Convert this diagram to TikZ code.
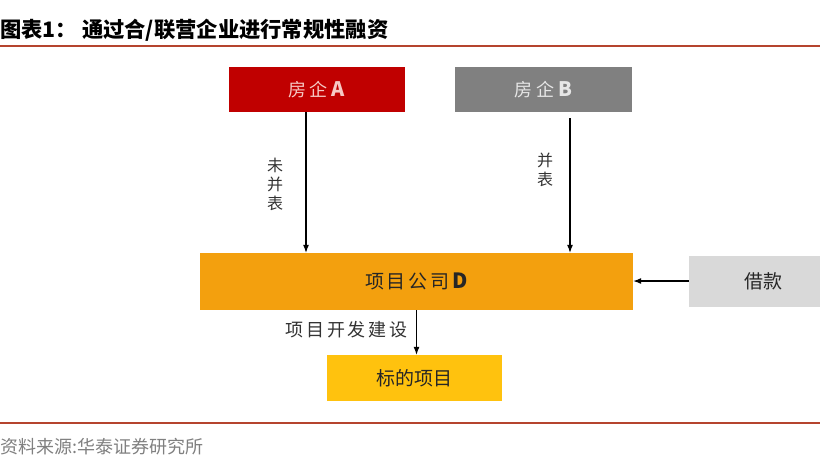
\documentclass[tikz,border=0pt]{standalone}
\usepackage{fontspec}
\newfontfamily\cjk{Noto Sans CJK SC}
\newfontfamily\cjkwide[LetterSpace=20]{Noto Sans CJK SC}
\newfontfamily\cjkmid[LetterSpace=15]{Noto Sans CJK SC}
\usetikzlibrary{arrows.meta}
\definecolor{reda}{HTML}{C00000}
\definecolor{grayb}{HTML}{808080}
\definecolor{orangeD}{HTML}{F3A00E}
\definecolor{goldT}{HTML}{FFC20E}
\definecolor{grayJ}{HTML}{D9D9D9}
\definecolor{rule}{HTML}{B5442E}
\definecolor{pinktxt}{HTML}{F6C9C4}
\definecolor{lgtxt}{HTML}{E6E6E6}
\begin{document}
\begin{tikzpicture}[x=1pt,y=-1pt,
  box/.style={draw=none, inner sep=0pt, font=\cjkwide\fontsize{18}{20}\selectfont},
  lbl/.style={inner sep=0pt, font=\cjk\fontsize{16}{19}\selectfont, text=black!80, align=center},
  arr/.style={-{Latex[length=8pt,width=6pt]}, line width=1.1pt, black}]
\useasboundingbox (0,0) rectangle (820,459);
\fill[white] (0,0) rectangle (820,459);
% title
\node[anchor=west, inner sep=0pt, font=\cjk\bfseries\fontsize{21.3}{24}\selectfont] (title) at (0,30) {图表1：\hspace{5pt}通过合/联营企业进行常规性融资};
\coordinate (tl) at (0,46);
\coordinate (tr) at (820,46);
\draw[rule, line width=2pt] (tl) -- (tr);
% boxes
\node[box, fill=reda, text=pinktxt, minimum width=176pt, minimum height=45pt] (A) at (316.5,89.5) {房企\hspace{4pt}{\fontsize{20}{20}\selectfont\bfseries A}};
\node[box, fill=grayb, text=lgtxt, minimum width=177pt, minimum height=45pt] (B) at (543.5,89.5) {房企\hspace{4pt}{\fontsize{20}{20}\selectfont\bfseries B}};
\node[box, fill=orangeD, text=black!85, minimum width=433pt, minimum height=57pt, font=\cjkmid\fontsize{19}{21}\selectfont] (D) at (416.5,281.5) {项目公司\hspace{3pt}{\fontsize{21}{21}\selectfont\bfseries D}};
\node[box, fill=grayJ, text=black!85, minimum width=131pt, minimum height=51pt, font=\cjk\fontsize{19}{21}\selectfont] (J) at (754.5,281) {\hspace*{17pt}借款};
\node[box, fill=goldT, text=black!85, minimum width=175pt, minimum height=46pt, font=\cjk\fontsize{19}{21}\selectfont] (T) at (414.5,378) {标的项目};
% arrows
\draw[arr] ([xshift=-10.5pt]A.south) -- ([xshift=-10.5pt]A.south |- D.north);
\draw[arr] ([xshift=26.5pt,yshift=-6pt]B.south) -- ([xshift=26.5pt]B.south |- D.north);
\draw[arr] (J.west) -- (J.west -| D.east);
\draw[arr] (D.south) -- (D.south |- T.north);
% labels
\node[lbl] (la) at (275,184) {未\\并\\表};
\node[lbl] (lb) at (545,170) {并\\表};
\node[lbl, font=\cjkmid\fontsize{18}{20}\selectfont] (lc) at (346.5,330) {项目开发建设};
% bottom rule and source
\coordinate (bl) at (0,423);
\coordinate (br) at (820,423);
\draw[rule, line width=2.5pt] (bl) -- (br);
\node[anchor=west, inner sep=0pt, text=grayb, font=\cjk\fontsize{18}{20}\selectfont] (src) at (0,447) {资料来源:华泰证券研究所};
\end{tikzpicture}
\end{document}
